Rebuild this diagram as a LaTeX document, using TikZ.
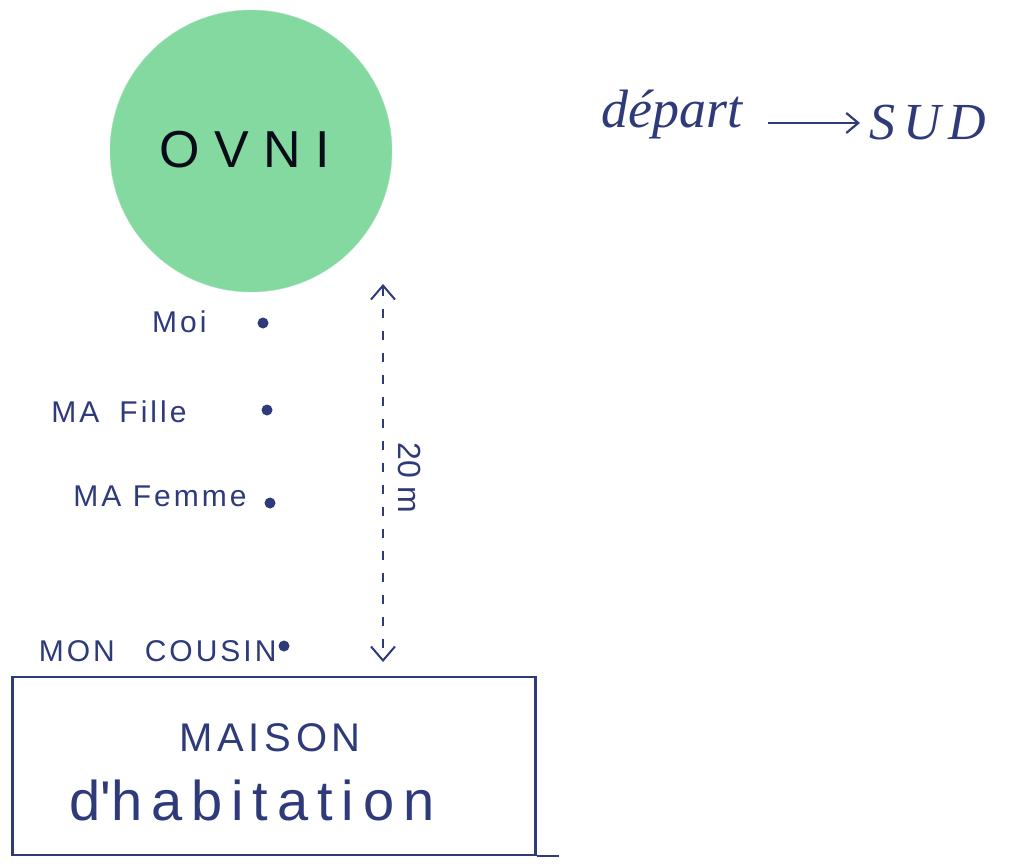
\documentclass[tikz,border=0pt]{standalone}
\usepackage{fontspec}
\setmainfont{Liberation Sans}
\newfontfamily\cursivefnt{Liberation Serif}
\usetikzlibrary{arrows.meta}
\definecolor{ink}{HTML}{2E3A7A}
\definecolor{ufo}{HTML}{84D9A0}
\begin{document}
\begin{tikzpicture}[x=1pt,y=-1pt,
  every node/.style={text=ink},
  dotnode/.style={circle,fill=ink,inner sep=0pt,minimum size=11pt},
  lbl/.style={font=\fontsize{30}{34}\selectfont\addfontfeature{LetterSpace=10},anchor=east},
  pen/.style={draw=ink,line width=2.2pt}]
\useasboundingbox (0,0) rectangle (1015,864);
\fill[white] (0,0) rectangle (1015,864);
% UFO
\node[circle,fill=ufo,draw=ufo!70!white,minimum size=282pt,inner sep=0pt] (ovni) at (251,151) {};
\node[font=\fontsize{52}{60}\selectfont,text=black!80!ink] (ovnit) at (245,150) {O V N I};
% departure
\node[font=\cursivefnt\itshape\fontsize{54}{60}\selectfont,anchor=base west] (dep) at (598,128) {départ};
\node[font=\cursivefnt\itshape\fontsize{52}{60}\selectfont\addfontfeature{LetterSpace=15},anchor=base west] (sud) at (866,140) {SUD};
\draw[pen,-{Straight Barb[length=12pt,width=20pt]}] (dep.east) ++(22,8) coordinate (a1) -- ([xshift=-6pt]sud.west |- a1) coordinate (a2);
% people
\node[dotnode] (moi) at (263,323) {};
\node[dotnode] (fille) at (267,410) {};
\node[dotnode] (femme) at (270,503) {};
\node[dotnode] (cousin) at (284,646) {};
\node[lbl] (lmoi) at (210,322) {Moi};
\node[lbl] (lfille) at (190,412) {MA\hspace{20pt}Fille};
\node[lbl] (lfemme) at (250,496) {MA Femme};
\node[lbl] (lcousin) at (280,651) {MON\quad COUSIN};
% distance
\coordinate (dtop) at (383,284);
\coordinate (dbot) at (383,662);
\draw[pen,line width=2pt,dash pattern=on 9pt off 13pt,>={Straight Barb[length=14pt,width=24pt]},<->] (dtop) -- (dbot);
\node[font=\fontsize{32}{36}\selectfont,rotate=-90] (dist) at (410,478) {20 m};
% house
\node[pen,rectangle,minimum width=523pt,minimum height=178pt,inner sep=0pt] (maison) at (274,766) {};
\node[font=\fontsize{40}{44}\selectfont\addfontfeature{LetterSpace=12}] (m1) at (270,738) {MAISON};
\node[font=\fontsize{56}{62}\selectfont\addfontfeature{LetterSpace=16}] (m2) at (252,800) {d\textquotesingle habitation};
\draw[pen] (maison.south east) -- ++(22,0) coordinate (bend);
\end{tikzpicture}
\end{document}
